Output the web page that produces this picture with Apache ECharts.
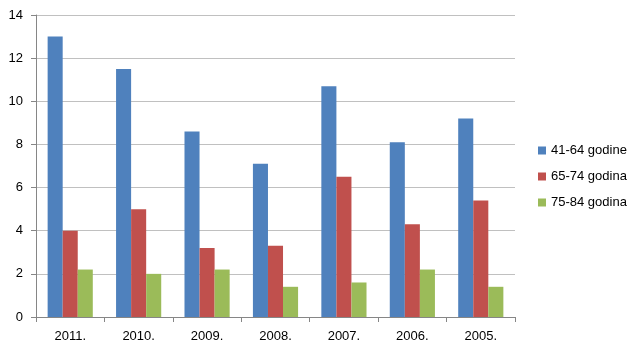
<!DOCTYPE html>
<html>
<head>
<meta charset="utf-8">
<script src="https://cdn.jsdelivr.net/npm/echarts@6/dist/echarts.min.js"></script>
<style>
  html, body { margin: 0; padding: 0; background: #fff; }
  #chart { width: 639px; height: 352px; }
</style>
</head>
<body>
<div id="chart"></div>
<script>
// godine (categories)
const years = ['2011.', '2010.', '2009.', '2008.', '2007.', '2006.', '2005.'];
const seriesNames = ['41-64 godine', '65-74 godina', '75-84 godina'];
const age4164 = [13.0, 11.5, 8.6, 7.1, 10.7, 8.1, 9.2];
const age6574 = [4.0, 5.0, 3.2, 3.3, 6.5, 4.3, 5.4];
const age7584 = [2.2, 2.0, 2.2, 1.4, 1.6, 2.2, 1.4];
const colors = ['#4F81BD', '#C0504D', '#9BBB59'];

const chart = echarts.init(document.getElementById('chart'));
const font = 'Liberation Sans, Arial, sans-serif';

const option = {
  animation: false,
  textStyle: { fontFamily: font },
  grid: {
    left: 36,
    right: 124,
    top: 15,
    bottom: 35
  },
  legend: {
    orient: 'vertical',
    left: 538,
    top: 144,
    padding: 0,
    itemWidth: 8,
    itemHeight: 8,
    itemGap: 13,
    icon: 'rect',
    textStyle: { fontSize: 13, color: '#000', fontFamily: font },
    data: seriesNames
  },
  xAxis: {
    type: 'category',
    data: years,
    axisLine: { lineStyle: { color: '#868686' } },
    axisTick: { show: true, length: 5, lineStyle: { color: '#868686' } },
    axisLabel: { fontSize: 13, color: '#000', margin: 13 }
  },
  yAxis: {
    type: 'value',
    min: 0,
    max: 14,
    interval: 2,
    axisLine: { show: true, lineStyle: { color: '#868686' } },
    axisTick: { show: true, length: 5, lineStyle: { color: '#868686' } },
    axisLabel: { fontSize: 13, color: '#000', margin: 13 },
    splitLine: { lineStyle: { color: '#c0c0c0', width: 1 } }
  },
  series: [
    {
      name: seriesNames[0],
      type: 'bar',
      data: age4164,
      barGap: '0%',
      barCategoryGap: '34%',
      itemStyle: { color: colors[0] }
    },
    {
      name: seriesNames[1],
      type: 'bar',
      data: age6574,
      barGap: '0%',
      barCategoryGap: '34%',
      itemStyle: { color: colors[1] }
    },
    {
      name: seriesNames[2],
      type: 'bar',
      data: age7584,
      barGap: '0%',
      barCategoryGap: '34%',
      itemStyle: { color: colors[2] }
    }
  ]
};

chart.setOption(option);
</script>
</body>
</html>
